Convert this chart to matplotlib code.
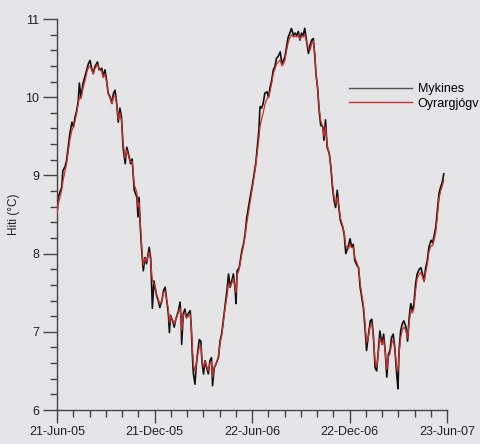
import numpy as np
import pandas as pd
import matplotlib
matplotlib.use("Agg")
import matplotlib.pyplot as plt
import matplotlib.dates as mdates
from matplotlib.ticker import FixedLocator, MultipleLocator

plt.rcParams['font.family'] = ['Liberation Sans', 'DejaVu Sans']

start_date = "2005-06-21"
days = [0, 2, 9, 11, 15, 18, 21, 24, 28, 31, 34, 37, 40, 42, 45, 49, 53, 56, 59, 62,
        65, 68, 71, 76, 79, 84, 87, 90, 93, 96, 100, 103, 106, 109, 112, 115, 118, 121, 124, 128,
        131, 134, 138, 141, 145, 150, 152, 154, 156, 159, 162, 165, 168, 173, 176, 179, 182, 184, 187, 190,
        193, 197, 200, 203, 206, 209, 211, 213, 217, 220, 223, 228, 231, 233, 234, 237, 240, 243, 246, 250,
        252, 254, 256, 259, 261, 263, 267, 270, 272, 275, 278, 281, 284, 287, 290, 292, 295, 298, 303, 306,
        309, 312, 315, 319, 322, 325, 328, 331, 334, 336, 338, 342, 347, 350, 353, 356, 360, 364, 367, 370,
        373, 376, 379, 381, 384, 387, 390, 394, 397, 400, 403, 406, 409, 412, 415, 419, 422, 425, 428, 431,
        434, 437, 440, 444, 447, 450, 453, 456, 459, 462, 465, 469, 472, 475, 478, 481, 484, 486, 489, 492,
        495, 499, 501, 504, 507, 511, 514, 517, 520, 523, 526, 529, 532, 536, 539, 542, 547, 550, 553, 556,
        559, 563, 566, 569, 572, 575, 578, 581, 584, 588, 591, 594, 597, 600, 603, 606, 610, 613, 616, 619,
        622, 625, 628, 631, 634, 638, 640, 642, 645, 648, 651, 655, 658, 661, 664, 667, 670, 673, 676, 680,
        683, 686, 689, 692, 695, 698, 702, 705, 708, 711, 714, 717, 720, 723, 726]

mykines = [8.51, 8.72, 8.85, 9.06, 9.11, 9.19, 9.36, 9.53, 9.68, 9.62, 9.75, 9.83, 9.96, 10.18, 10.00, 10.18, 10.28, 10.35, 10.43, 10.47,
           10.37, 10.30, 10.39, 10.45, 10.35, 10.37, 10.26, 10.35, 10.22, 10.05, 10.00, 9.92, 10.05, 10.09, 9.92, 9.68, 9.86, 9.75, 9.36, 9.15,
           9.36, 9.28, 9.15, 9.21, 8.81, 8.72, 8.47, 8.72, 8.38, 8.04, 7.78, 7.95, 7.87, 8.08, 7.93, 7.30, 7.65, 7.57, 7.46, 7.40,
           7.31, 7.40, 7.53, 7.57, 7.40, 7.23, 6.99, 7.21, 7.14, 7.06, 7.16, 7.27, 7.38, 7.14, 6.84, 7.23, 7.29, 7.18, 7.23, 7.27,
           7.06, 6.71, 6.46, 6.33, 6.54, 6.67, 6.90, 6.88, 6.63, 6.46, 6.63, 6.54, 6.46, 6.63, 6.67, 6.31, 6.54, 6.58, 6.67, 6.88,
           6.97, 7.14, 7.31, 7.53, 7.74, 7.57, 7.65, 7.74, 7.57, 7.36, 7.78, 7.82, 8.04, 8.12, 8.25, 8.45, 8.62, 8.77, 8.89, 9.02,
           9.15, 9.36, 9.58, 9.88, 9.86, 9.92, 10.05, 10.07, 10.00, 10.13, 10.22, 10.35, 10.39, 10.50, 10.52, 10.58, 10.43, 10.47, 10.52, 10.65,
           10.77, 10.82, 10.88, 10.79, 10.82, 10.79, 10.84, 10.73, 10.82, 10.79, 10.88, 10.69, 10.56, 10.67, 10.73, 10.75, 10.52, 10.30, 10.13, 9.83,
           9.64, 9.62, 9.45, 9.71, 9.36, 9.28, 9.11, 8.85, 8.68, 8.59, 8.81, 8.59, 8.42, 8.34, 8.25, 8.00, 8.10, 8.19, 8.08, 8.12,
           7.91, 7.85, 7.82, 7.57, 7.44, 7.31, 7.06, 6.76, 6.93, 7.14, 7.16, 6.93, 6.54, 6.50, 6.76, 7.01, 6.84, 6.97, 6.76, 6.42,
           6.71, 6.76, 6.93, 6.97, 6.80, 6.42, 6.27, 6.76, 7.01, 7.10, 7.14, 7.06, 6.88, 7.18, 7.36, 7.27, 7.36, 7.61, 7.74, 7.80,
           7.82, 7.74, 7.65, 7.82, 7.91, 8.08, 8.17, 8.14, 8.23, 8.34, 8.55, 8.77, 8.85, 8.91, 9.02]

oyrargjogv = [8.50, 8.62, 8.82, 8.92, 9.05, 9.15, 9.30, 9.45, 9.58, 9.62, 9.70, 9.80, 9.92, 10.00, 9.98, 10.12, 10.22, 10.32, 10.38, 10.40,
              10.35, 10.30, 10.36, 10.42, 10.36, 10.33, 10.25, 10.30, 10.20, 10.05, 9.98, 9.92, 10.00, 10.02, 9.92, 9.72, 9.80, 9.70, 9.42, 9.22,
              9.32, 9.26, 9.17, 9.18, 8.88, 8.78, 8.60, 8.65, 8.42, 8.08, 7.85, 7.94, 7.90, 8.02, 7.90, 7.65, 7.62, 7.58, 7.48, 7.42,
              7.35, 7.40, 7.50, 7.52, 7.40, 7.28, 7.12, 7.20, 7.15, 7.10, 7.16, 7.25, 7.30, 7.18, 7.02, 7.20, 7.25, 7.18, 7.20, 7.22,
              7.08, 6.80, 6.58, 6.50, 6.58, 6.68, 6.80, 6.82, 6.65, 6.55, 6.62, 6.56, 6.50, 6.60, 6.62, 6.42, 6.55, 6.58, 6.68, 6.85,
              6.95, 7.10, 7.28, 7.45, 7.62, 7.58, 7.62, 7.68, 7.58, 7.50, 7.72, 7.80, 8.00, 8.10, 8.22, 8.38, 8.55, 8.72, 8.85, 8.98,
              9.12, 9.30, 9.48, 9.62, 9.72, 9.80, 9.90, 9.98, 10.00, 10.08, 10.18, 10.30, 10.36, 10.42, 10.45, 10.48, 10.40, 10.42, 10.48, 10.60,
              10.70, 10.76, 10.80, 10.77, 10.78, 10.77, 10.80, 10.74, 10.78, 10.77, 10.80, 10.70, 10.62, 10.60, 10.68, 10.72, 10.55, 10.32, 10.12, 9.86,
              9.70, 9.62, 9.50, 9.62, 9.40, 9.28, 9.12, 8.90, 8.72, 8.64, 8.72, 8.62, 8.45, 8.36, 8.27, 8.10, 8.06, 8.12, 8.08, 8.08,
              7.95, 7.88, 7.82, 7.62, 7.48, 7.35, 7.12, 6.86, 6.92, 7.08, 7.10, 6.92, 6.62, 6.55, 6.72, 6.92, 6.84, 6.90, 6.75, 6.52,
              6.68, 6.72, 6.85, 6.90, 6.78, 6.52, 6.50, 6.72, 6.92, 7.02, 7.06, 7.02, 6.92, 7.12, 7.28, 7.24, 7.30, 7.52, 7.68, 7.74,
              7.76, 7.70, 7.64, 7.76, 7.86, 8.02, 8.10, 8.10, 8.18, 8.28, 8.48, 8.70, 8.80, 8.86, 8.94]

major_dates = ["2005-06-21", "2005-12-21", "2006-06-22", "2006-12-22", "2007-06-23"]
series_names = ["Mykines", "Oyrargjógv"]
y_label = "Hiti (°C)"

bg = "#e5e5e8"
dates = pd.Timestamp(start_date) + pd.to_timedelta(days, unit="D")

fig = plt.figure(figsize=(4.8, 4.44), dpi=100, facecolor=bg)
ax = fig.add_axes([57/480, 34/444, 390/480, 391/444])
ax.set_facecolor(bg)

l1, = ax.plot(dates, mykines, color="#111111", lw=1.2, zorder=2)
l2, = ax.plot(dates, oyrargjogv, color="#c8312b", lw=0.9, zorder=3)

mj = [mdates.date2num(pd.Timestamp(d)) for d in major_dates]
ax.set_xlim(mj[0], mj[-1])
ax.set_ylim(6, 11)
ax.xaxis.set_major_locator(FixedLocator(mj))
minor = []
for a, b in zip(mj[:-1], mj[1:]):
    minor += list(np.linspace(a, b, 7)[1:-1])
ax.xaxis.set_minor_locator(FixedLocator(minor))
ax.xaxis.set_major_formatter(mdates.DateFormatter("%d-%b-%y"))
ax.yaxis.set_major_locator(MultipleLocator(1))
ax.yaxis.set_minor_locator(MultipleLocator(0.2))

for s in ["top", "right"]:
    ax.spines[s].set_visible(False)
for s in ["left", "bottom"]:
    ax.spines[s].set_color("#444444")
    ax.spines[s].set_linewidth(1.0)

ax.tick_params(which="major", length=9.4, width=1.0, color="#444444", labelsize=9, labelcolor="#222222", pad=2)
ax.tick_params(which="minor", length=5, width=1.0, color="#444444")
ax.tick_params(axis="y", which="major", length=10, pad=3)

ax.set_ylabel(y_label, fontsize=8.5, color="#222222")
ax.yaxis.set_label_coords((20 - 57) / 390, 0.5)

leg = ax.legend([l1, l2], series_names, loc="upper left", bbox_to_anchor=(349/480, 1 - 83/444),
                bbox_transform=fig.transFigure, frameon=False, fontsize=9,
                handlelength=5.0, handletextpad=0.5, labelspacing=0.2, borderaxespad=0, borderpad=0)
for h in leg.legend_handles:
    h.set_linewidth(1.0)
leg.legend_handles[0].set_color("#555555")

fig.savefig("out.png", dpi=100, facecolor=bg)
